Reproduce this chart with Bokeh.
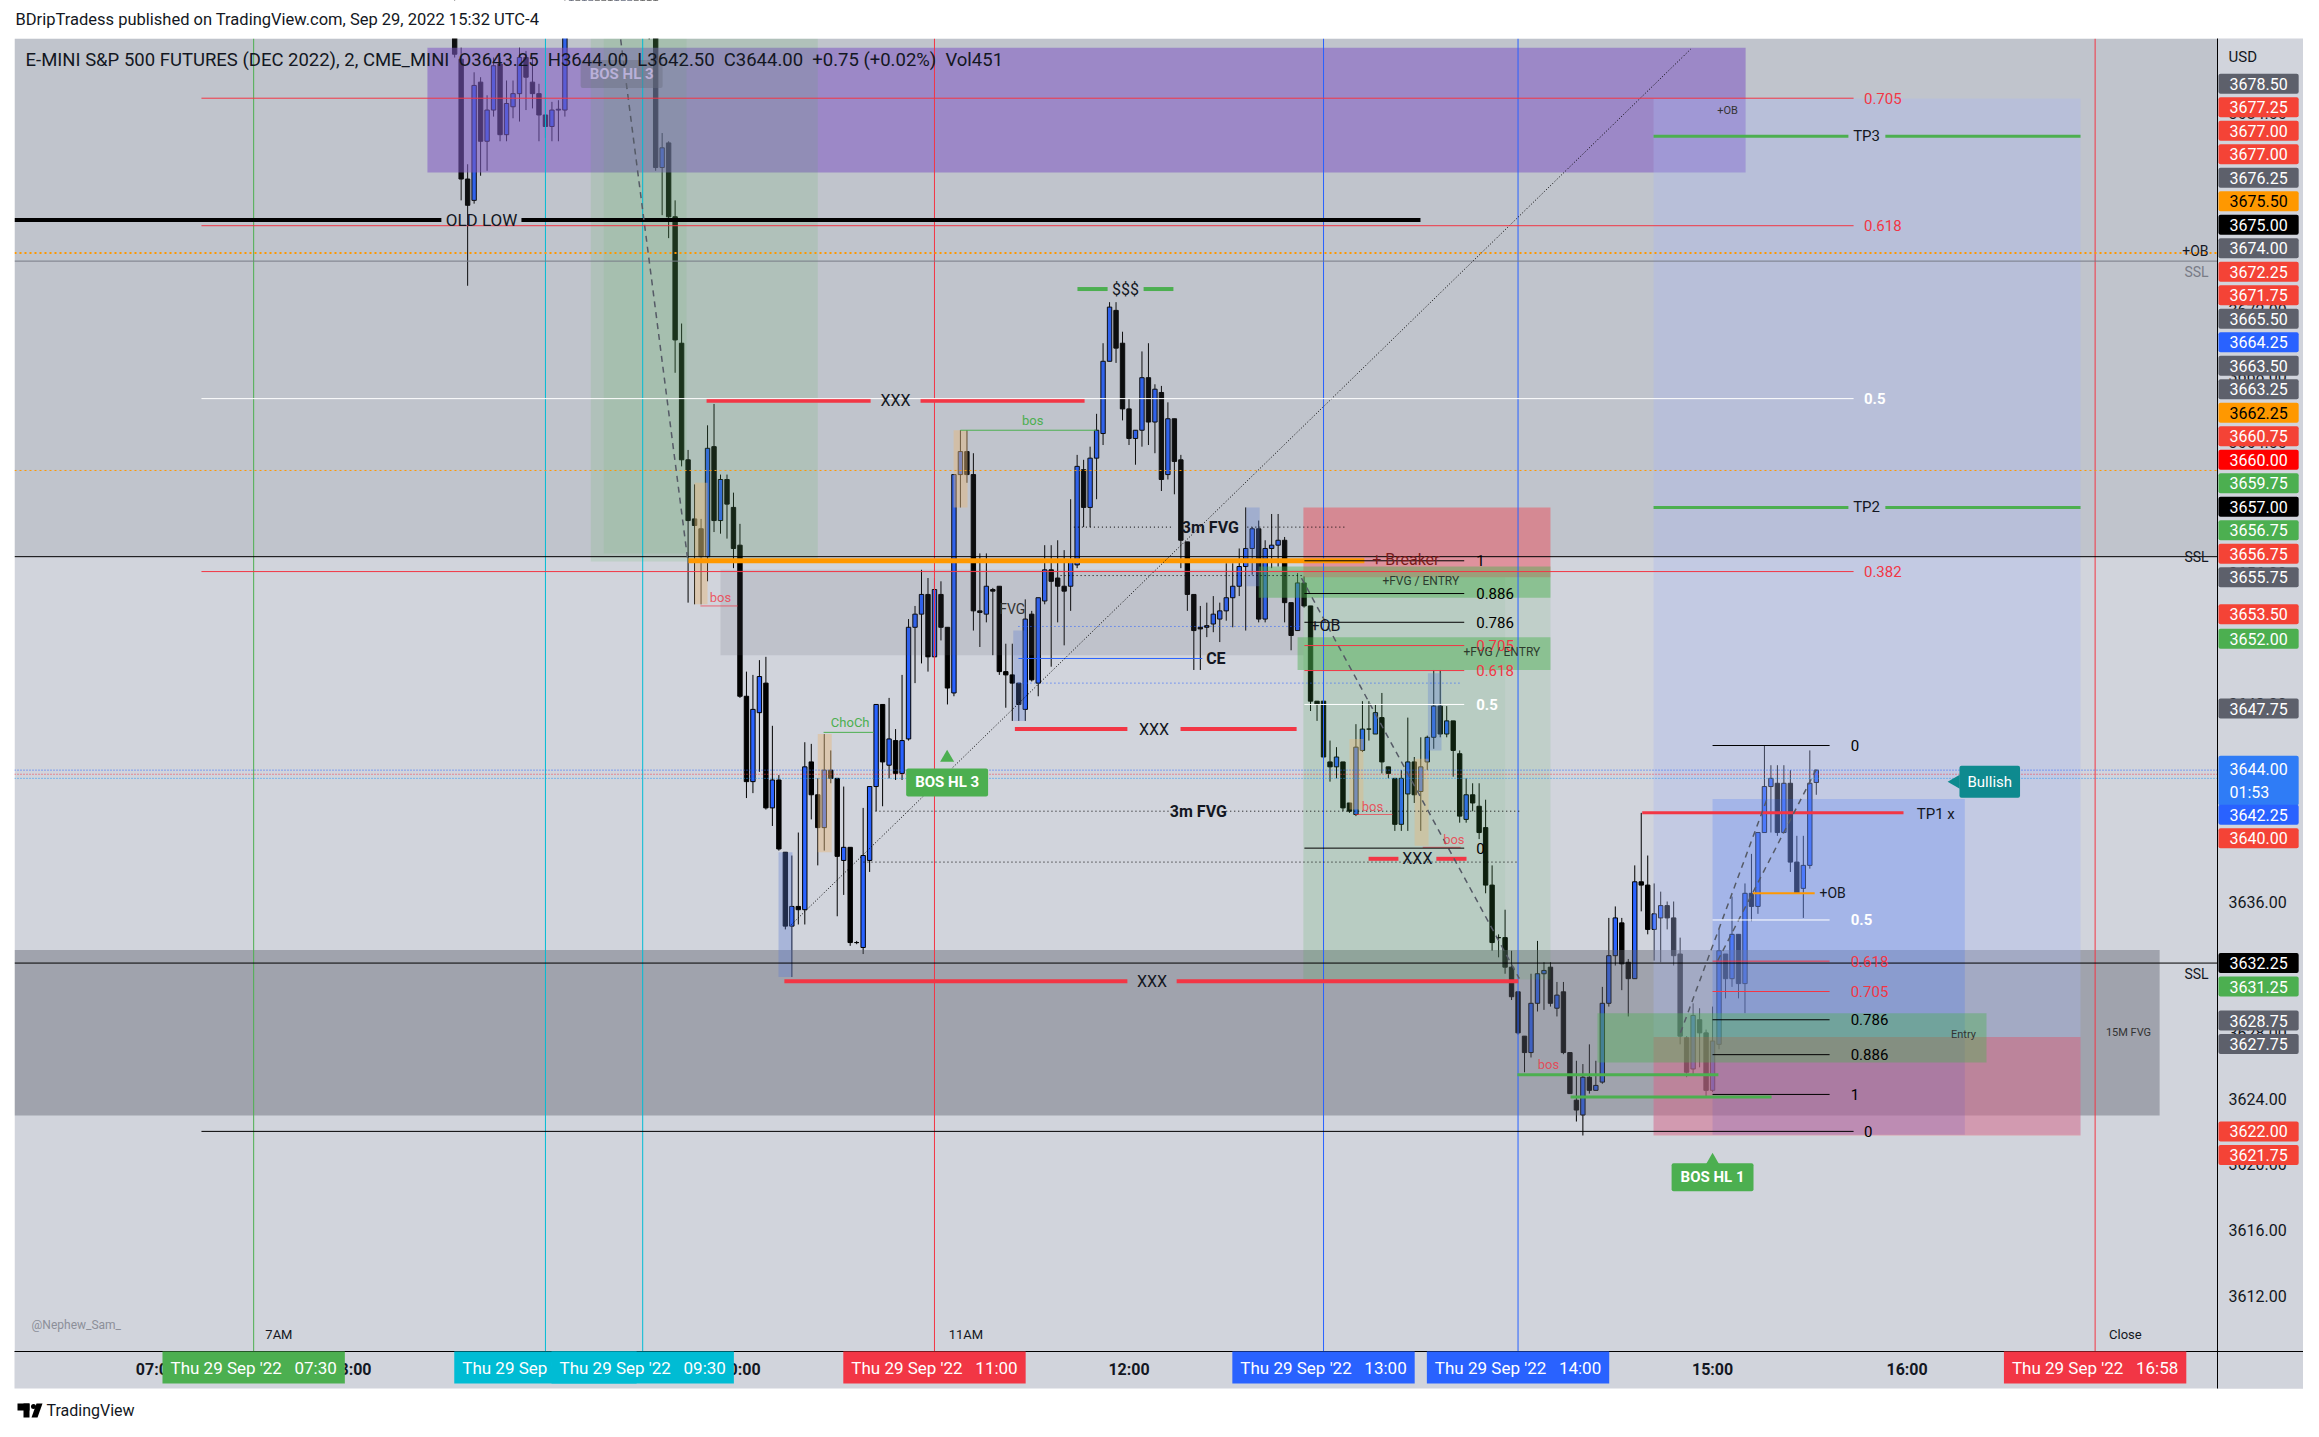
from bokeh.plotting import figure
from bokeh.models import Range1d, Label, ColumnDataSource
from bokeh.embed import file_html
from bokeh.resources import INLINE
from bokeh.core.properties import value

FONT = "Roboto"
NB = "\u00a0"

def tm(s):
    h, m = s.split(":")
    return int(h) * 60 + float(m)

# ---------------------------------------------------------------- candles (2-minute bars, ESZ22, 29 Sep 2022)
first_bar = "08:32"
open_ = [
    # 08:32-08:58
    3690.0, 3687.3, 3680.0, 3678.7, 3685.9, 3682.3, 3684.2, 3687.0, 3682.7, 3684.4, 3685.2, 3687.4, 3685.9, 3685.2,
    # 09:00-09:58
    3683.9, 3683.2, 3684.2, 3684.2, 3690.5, 3692.25, 3691.5, 3693.0, 3695.5, 3694.0, 3692.0, 3690.5, 3693.0, 3695.0, 3696.5,
    3695.0, 3691.5, 3691.0, 3680.7, 3682.2, 3677.7, 3670.0, 3662.9, 3659.3, 3658.7, 3657.0, 3663.7, 3659.2, 3661.7, 3660.0,
    # 10:00-10:58
    3657.7, 3648.5, 3643.3, 3647.5, 3649.3, 3641.7, 3643.4, 3639.0, 3634.5, 3635.7, 3635.5, 3644.5, 3642.5, 3640.5, 3644.0,
    3643.5, 3638.5, 3639.3, 3633.5, 3633.2, 3638.5, 3643.0, 3648.0, 3644.3, 3645.8, 3643.8, 3645.9, 3652.7, 3653.5, 3654.7,
    # 11:00-11:58
    3650.9, 3654.7, 3652.7, 3648.7, 3662.0, 3663.4, 3662.0, 3653.7, 3653.5, 3655.0, 3655.2, 3650.0, 3649.8, 3649.3, 3647.7,
    3653.5, 3649.3, 3654.3, 3656.2, 3655.7, 3655.2, 3655.2, 3656.5, 3662.3, 3660.0, 3663.0, 3664.5, 3668.9, 3672.0, 3670.0,
    # 12:00-12:58
    3666.0, 3664.2, 3664.7, 3667.9, 3665.2, 3667.0, 3662.0, 3665.4, 3662.9, 3657.9, 3654.7, 3652.7, 3652.8, 3652.9, 3653.2,
    3653.7, 3654.5, 3655.2, 3656.4, 3657.5, 3658.7, 3653.2, 3657.5, 3657.7, 3658.0, 3654.2, 3652.5, 3655.4, 3654.0, 3648.2,
    # 13:00-13:58
    3648.2, 3644.5, 3644.2, 3644.5, 3642.0, 3641.3, 3645.2, 3646.5, 3646.2, 3647.2, 3644.2, 3643.5, 3640.7, 3642.55, 3644.5,
    3642.7, 3644.5, 3646.0, 3647.9, 3646.2, 3647.0, 3645.0, 3641.0, 3642.5, 3641.8, 3640.5, 3637.0, 3633.8, 3633.8, 3632.0,
    # 14:00-14:58
    3630.5, 3627.8, 3626.8, 3629.8, 3631.6, 3632.0, 3629.5, 3630.5, 3626.8, 3623.9, 3623.0, 3625.3, 3624.5, 3625.0, 3629.8,
    3632.7, 3634.7, 3632.3, 3631.3, 3637.2, 3637.0, 3634.3, 3635.0, 3635.75, 3635.0, 3632.8, 3627.7, 3625.8, 3628.8, 3628.0,
    # 15:00-15:32
    3624.5, 3627.3, 3632.8, 3631.3, 3634.0, 3631.0, 3636.5, 3635.7, 3640.2, 3643.0, 3643.2, 3640.2, 3643.2, 3638.4, 3636.8,
    3638.2, 3643.25,
]
high = [
    3691.0, 3688.0, 3680.9, 3686.5, 3686.2, 3685.1, 3687.4, 3687.4, 3686.0, 3686.0, 3688.0, 3687.8, 3687.4, 3685.8,
    3685.0, 3684.7, 3684.8, 3691.5, 3693.0, 3694.5, 3693.5, 3696.0, 3697.0, 3695.0, 3693.0, 3693.5, 3695.5, 3697.5, 3698.0,
    3697.0, 3693.0, 3692.0, 3682.8, 3682.3, 3678.7, 3671.2, 3663.5, 3661.4, 3659.3, 3665.0, 3666.3, 3662.0, 3662.0, 3660.9,
    3659.0, 3650.0, 3649.8, 3650.7, 3650.9, 3646.7, 3643.7, 3639.0, 3638.8, 3640.2, 3645.7, 3645.6, 3643.5, 3646.2, 3645.2,
    3643.5, 3643.0, 3639.3, 3633.6, 3641.7, 3643.0, 3648.0, 3648.0, 3648.4, 3646.5, 3649.8, 3653.2, 3654.0, 3656.2, 3655.7,
    3655.7, 3655.5, 3652.7, 3662.0, 3664.7, 3664.7, 3663.3, 3657.2, 3657.2, 3655.1, 3655.2, 3651.7, 3651.7, 3649.3, 3654.4,
    3653.7, 3654.5, 3657.7, 3657.7, 3658.0, 3657.4, 3660.5, 3663.2, 3662.9, 3663.7, 3665.7, 3670.0, 3672.5, 3672.5, 3670.7,
    3666.6, 3664.7, 3669.5, 3670.0, 3667.5, 3667.4, 3666.4, 3665.4, 3663.2, 3657.9, 3654.7, 3654.0, 3654.2, 3654.6, 3654.2,
    3656.6, 3656.6, 3657.5, 3660.0, 3658.8, 3659.2, 3658.0, 3659.6, 3659.6, 3658.2, 3654.2, 3656.0, 3655.8, 3654.0, 3648.2,
    3648.2, 3645.8, 3645.4, 3644.5, 3642.0, 3646.8, 3648.2, 3648.2, 3648.0, 3648.7, 3644.2, 3643.5, 3644.0, 3647.2, 3644.8,
    3646.0, 3646.1, 3650.1, 3650.1, 3647.9, 3647.0, 3645.2, 3643.5, 3643.2, 3643.2, 3642.2, 3638.2, 3634.0, 3635.5, 3633.0,
    3630.5, 3627.8, 3631.6, 3633.6, 3632.3, 3632.3, 3631.1, 3631.1, 3626.8, 3626.3, 3626.1, 3627.3, 3626.3, 3630.8, 3635.0,
    3635.7, 3635.0, 3632.5, 3638.2, 3641.4, 3638.8, 3637.1, 3636.6, 3636.0, 3636.0, 3633.8, 3627.8, 3629.8, 3629.5, 3628.2,
    3629.6, 3634.3, 3632.8, 3636.3, 3634.0, 3637.1, 3638.9, 3640.2, 3645.5, 3644.3, 3644.3, 3644.3, 3644.0, 3640.0, 3640.0,
    3645.2, 3644.0,
]
low = [
    3687.4, 3678.7, 3673.5, 3678.5, 3680.2, 3680.5, 3683.8, 3682.3, 3682.3, 3683.7, 3683.5, 3684.2, 3684.3, 3682.3,
    3682.5, 3682.3, 3682.3, 3683.8, 3689.5, 3691.0, 3690.0, 3692.5, 3693.5, 3691.5, 3689.25, 3690.0, 3692.5, 3694.0, 3694.5,
    3690.5, 3688.5, 3680.5, 3677.8, 3676.4, 3668.2, 3662.5, 3654.2, 3654.1, 3654.1, 3655.5, 3658.5, 3658.4, 3658.1, 3656.3,
    3648.4, 3642.3, 3642.6, 3643.9, 3641.6, 3640.6, 3639.1, 3634.3, 3631.4, 3634.6, 3634.6, 3641.0, 3638.2, 3639.1, 3643.2,
    3635.1, 3636.4, 3633.3, 3633.4, 3632.8, 3637.8, 3641.5, 3641.8, 3643.5, 3643.4, 3643.4, 3645.8, 3649.3, 3650.5, 3650.0,
    3650.9, 3651.9, 3648.0, 3648.5, 3660.0, 3661.5, 3652.5, 3651.5, 3653.0, 3651.0, 3649.8, 3647.8, 3647.0, 3647.0, 3647.0,
    3649.4, 3648.5, 3654.1, 3650.3, 3653.0, 3651.6, 3653.7, 3656.3, 3658.8, 3658.8, 3660.5, 3663.8, 3668.9, 3668.8, 3665.3,
    3663.8, 3662.6, 3663.7, 3663.8, 3663.3, 3661.0, 3661.7, 3660.8, 3656.3, 3653.7, 3650.1, 3650.1, 3652.1, 3652.4, 3651.8,
    3653.1, 3652.7, 3654.6, 3652.5, 3655.9, 3653.0, 3653.0, 3656.3, 3656.4, 3653.0, 3651.3, 3652.5, 3653.9, 3647.6, 3647.0,
    3644.7, 3643.3, 3643.5, 3641.5, 3641.4, 3641.2, 3645.1, 3645.8, 3646.2, 3643.8, 3643.5, 3640.3, 3640.3, 3640.3, 3642.0,
    3640.3, 3644.0, 3645.3, 3646.0, 3646.0, 3643.6, 3640.8, 3640.8, 3641.5, 3639.8, 3636.5, 3633.0, 3632.6, 3631.6, 3630.0,
    3627.9, 3625.6, 3626.5, 3629.3, 3629.4, 3629.6, 3629.0, 3626.7, 3624.3, 3622.6, 3621.75, 3624.3, 3624.5, 3624.9, 3629.6,
    3632.1, 3630.6, 3629.0, 3631.3, 3635.4, 3634.0, 3632.4, 3632.3, 3634.3, 3632.1, 3627.3, 3625.3, 3625.4, 3625.9, 3624.1,
    3624.4, 3627.0, 3630.1, 3630.8, 3630.1, 3629.2, 3634.8, 3635.25, 3640.2, 3640.2, 3640.0, 3640.2, 3637.8, 3636.5, 3635.0,
    3638.0, 3642.5,
]
close = [
    3687.6, 3680.0, 3678.4, 3685.7, 3682.3, 3684.2, 3686.9, 3682.7, 3684.6, 3685.2, 3687.4, 3686.2, 3685.2, 3683.9,
    3683.2, 3684.2, 3684.25, 3690.5, 3692.25, 3691.5, 3693.0, 3695.5, 3694.0, 3692.0, 3690.5, 3693.0, 3695.0, 3696.5, 3695.0,
    3691.5, 3691.0, 3680.7, 3681.9, 3677.7, 3670.2, 3662.9, 3659.2, 3658.9, 3657.0, 3663.6, 3659.2, 3661.7, 3660.2, 3657.5,
    3648.5, 3643.3, 3647.7, 3649.7, 3641.7, 3643.4, 3639.2, 3634.5, 3635.7, 3635.5, 3644.2, 3642.5, 3640.5, 3644.0, 3643.5,
    3638.75, 3639.3, 3633.5, 3633.5, 3638.8, 3643.0, 3648.0, 3644.5, 3645.9, 3643.8, 3645.8, 3652.7, 3653.5, 3654.7, 3650.9,
    3655.0, 3652.7, 3649.0, 3662.0, 3663.4, 3662.0, 3653.7, 3653.6, 3655.2, 3654.9, 3650.0, 3649.8, 3649.3, 3648.0, 3653.2,
    3649.5, 3654.5, 3656.2, 3655.5, 3655.2, 3654.9, 3656.7, 3662.5, 3660.0, 3663.0, 3664.7, 3668.9, 3672.2, 3669.7, 3666.0,
    3664.2, 3664.7, 3667.9, 3665.2, 3667.2, 3661.7, 3665.4, 3662.8, 3658.0, 3654.7, 3652.5, 3652.6, 3652.7, 3653.5, 3653.7,
    3654.5, 3655.2, 3656.4, 3657.5, 3658.7, 3653.2, 3657.5, 3657.7, 3658.0, 3654.2, 3652.2, 3655.4, 3654.0, 3648.2, 3648.0,
    3644.8, 3644.2, 3644.8, 3641.7, 3641.5, 3645.4, 3646.5, 3646.5, 3647.5, 3644.5, 3643.8, 3640.7, 3643.5, 3644.5, 3642.5,
    3644.2, 3646.0, 3647.9, 3646.2, 3647.0, 3645.2, 3641.2, 3642.5, 3642.0, 3640.2, 3637.0, 3633.5, 3633.8, 3632.0, 3630.2,
    3628.0, 3626.8, 3629.8, 3631.6, 3631.8, 3629.8, 3630.3, 3626.8, 3624.3, 3623.3, 3625.3, 3624.5, 3624.8, 3629.8, 3632.7,
    3635.0, 3632.2, 3631.3, 3637.2, 3637.0, 3634.3, 3635.25, 3635.75, 3635.0, 3632.7, 3627.8, 3625.6, 3629.06, 3628.0, 3624.5,
    3627.5, 3633.0, 3631.3, 3634.0, 3631.0, 3636.5, 3635.7, 3640.2, 3643.0, 3643.5, 3640.2, 3643.2, 3638.4, 3636.5, 3638.2,
    3643.2, 3644.0,
]
assert len(open_) == len(high) == len(low) == len(close)

# ---------------------------------------------------------------- price-scale labels
axis_prices = [3678.50, 3677.25, 3677.00, 3677.00, 3676.25, 3675.50, 3675.00, 3674.00, 3672.25, 3671.75,
               3665.50, 3664.25, 3663.50, 3663.25, 3662.25, 3660.75, 3660.00, 3659.75, 3657.00, 3656.75,
               3656.75, 3655.75, 3653.50, 3652.00, 3647.75, 3644.00, 3642.25, 3640.00, 3632.25, 3631.25,
               3628.75, 3627.75, 3622.00, 3621.75]
axis_kinds = ["gray", "red", "red", "red", "gray", "orange", "black", "gray", "red", "red",
              "gray", "blue", "gray", "gray", "orange", "red", "pure", "green", "black", "green",
              "red", "gray", "red", "green", "gray", "last", "blue", "red", "black", "green",
              "gray", "gray", "red", "red"]
countdown = "01:53"
price_ticks = [3612, 3616, 3620, 3624, 3628, 3632, 3636, 3640, 3644, 3648, 3652, 3656, 3660,
               3664, 3668, 3672, 3676, 3680, 3684]

# ---------------------------------------------------------------- time scale
hour_ticks = ["07:00", "08:00", "09:00", "10:00", "11:00", "12:00", "13:00", "14:00", "15:00", "16:00"]
marks = ["07:30", "09:00", "09:30", "11:00", "13:00", "14:00", "16:58"]
mark_colors = ["#4caf50", "#00bcd4", "#00bcd4", "#f23645", "#2962ff", "#2962ff", "#f23645"]

# ---------------------------------------------------------------- drawn levels
old_low = 3677.5
ob_level, ssl_top, fvg_level = 3675.5, 3675.0, 3662.25
ssl_mid, ssl_low = 3657.0, 3632.25
last_price = 3644.0
breaker = 3656.75
xxx_levels = [3666.5, 3646.5, 3638.6, 3631.15]
sss_level = 3673.3
tp_levels = {"TP3": 3682.6, "TP2": 3660.0}
tp1_level = 3641.4
fib_big = (3622.0, 3711.25)      # (0, 1)
fib_mid = (3639.25, 3656.75)
fib_small = (3645.5, 3624.25)

# ---------------------------------------------------------------- page geometry (pixels -> chart units)
W, H = 2303, 1421
PX_PER_MIN, PX_PER_PT = 3.242, 16.42
REF_T, REF_X = 720.0, 1128.5          # 12:00 column
REF_P, REF_Y = 3636.0, 901.0          # 3636.00 row


def X(px):
    return REF_T + (px - REF_X) / PX_PER_MIN


def Y(py):
    return REF_P + (REF_Y - py) / PX_PER_PT


def py_of(pr):
    return REF_Y - (pr - REF_P) * PX_PER_PT


X0, X1, Y0, Y1 = X(0), X(W), Y(H), Y(0)
PL, PR, PT, PB = X(14), X(2217), Y(38), Y(1351)     # chart pane
SR, SB = X(2305), Y(1388)                            # end of price / time scales

BG = "#d1d4dc"
BLUE = "#2962ff"
RED = "#f23645"
GREEN = "#4caf50"
ORANGE = "#ff9800"

p = figure(width=W, height=H, x_range=Range1d(X0, X1), y_range=Range1d(Y0, Y1),
           x_axis_location=None, y_axis_location=None, output_backend="svg",
           toolbar_location=None, min_border=0)
p.background_fill_color = "white"
p.border_fill_color = "white"
p.outline_line_color = None
p.grid.visible = False


def text(x, y, s, size=15, color="#131722", align="center", baseline="middle", bold=False,
         bg=None, bg_alpha=1.0, pad=None, alpha=1.0, radius=0):
    kw = dict(x=x, y=y, text=s, text_font=FONT, text_font_size=f"{size}px",
              text_color=color, text_align=align, text_baseline=baseline, text_alpha=alpha,
              text_font_style="bold" if bold else "normal")
    if bg is not None:
        kw.update(background_fill_color=bg, background_fill_alpha=bg_alpha)
        if pad is not None:
            kw["padding"] = dict(left=pad[0], right=pad[0], top=pad[1], bottom=pad[1])
        if radius:
            kw["border_radius"] = radius
    p.add_layout(Label(**kw))


def hline(y, t0, t1, color, width=1, dash="solid", alpha=1.0, gap=None):
    if gap is None:
        p.line([t0, t1], [y, y], line_color=color, line_width=width, line_dash=dash, line_alpha=alpha)
    else:
        p.line([t0, gap[0]], [y, y], line_color=color, line_width=width, line_dash=dash, line_alpha=alpha)
        p.line([gap[1], t1], [y, y], line_color=color, line_width=width, line_dash=dash, line_alpha=alpha)


# chart pane
p.quad(left=PL, right=PR, bottom=PB, top=PT, fill_color=BG, line_color=None)

# ---------------------------------------------------------------- candles
times = [tm(first_bar) + 2 * i for i in range(len(open_))]
src = ColumnDataSource(dict(
    t=times, h=high, l=low,
    top=[max(o, c) for o, c in zip(open_, close)],
    bot=[min(o, c) for o, c in zip(open_, close)],
    fill=[BLUE if c >= o else "#000000" for o, c in zip(open_, close)],
))
p.segment(x0="t", y0="l", x1="t", y1="h", source=src, line_color="black", line_width=1)
p.vbar(x="t", width=1.35, top="top", bottom="bot", fill_color="fill", line_color="black",
       line_width=1, source=src)

# ---------------------------------------------------------------- zones (translucent, over candles)
zones = [
    (PL, PR, ssl_mid, PT, "#5d606b", 0.14),
    (tm("09:54"), tm("12:53.8"), 3651.0, 3656.2, "#5d606b", 0.15),
    (PL, tm("17:17.9"), 3622.97, 3633.05, "#5d606b", 0.42),
    (tm("08:23.6"), tm("15:10.2"), 3680.4, 3688.0, "#7e57c2", 0.55),
    (tm("09:14"), tm("10:24"), 3656.7, PT, GREEN, 0.14),
    (tm("09:18"), tm("09:43.5"), 3657.2, PT, GREEN, 0.10),
    (tm("12:53.8"), tm("14:10"), 3631.25, 3655.75, GREEN, 0.13),
    (tm("12:53.8"), tm("13:56"), 3631.25, 3655.75, GREEN, 0.06),
    (tm("12:53.8"), tm("14:10"), 3655.75, 3660.0, RED, 0.42),
    (tm("12:40"), tm("14:10"), 3654.5, 3656.4, GREEN, 0.45),
    (tm("12:52"), tm("14:10"), 3650.1, 3652.1, GREEN, 0.45),
    (tm("14:41.8"), tm("16:53.5"), 3621.8, 3684.9, "#a8b8f0", 0.35),
    (tm("15:00"), tm("16:17.8"), 3621.8, 3642.25, BLUE, 0.2),
    (tm("14:41.8"), tm("16:53.5"), 3621.75, 3627.75, RED, 0.32),
    (tm("14:24.5"), tm("16:24.5"), 3626.2, 3629.2, GREEN, 0.4),
    (tm("09:46"), tm("09:50"), 3654.1, 3661.5, "#e6b87a", 0.45),
    (tm("10:24"), tm("10:28.3"), 3639.0, 3646.2, "#e6b87a", 0.45),
    (tm("11:05.9"), tm("11:10.2"), 3660.0, 3664.7, "#e6b87a", 0.45),
    (tm("13:08"), tm("13:12.3"), 3641.6, 3645.9, "#e6b87a", 0.4),
    (tm("13:28.1"), tm("13:32.4"), 3639.4, 3644.7, "#e6b87a", 0.4),
    (tm("10:11.9"), tm("10:16.2"), 3631.4, 3639.0, "#5b7bd5", 0.35),
    (tm("11:24.3"), tm("11:28.1"), 3647.0, 3652.5, "#5b7bd5", 0.3),
    (tm("12:36.2"), tm("12:40.3"), 3655.2, 3660.0, "#5b7bd5", 0.3),
    (tm("13:32.2"), tm("13:36.4"), 3645.2, 3649.9, "#5b7bd5", 0.3),
]
for t0, t1, b, t, col, a in zones:
    p.quad(left=t0, right=t1, bottom=b, top=t, fill_color=col, fill_alpha=a, line_color=None)

# ---------------------------------------------------------------- vertical session lines
p.segment(x0=[tm(s) for s in marks], y0=PB, x1=[tm(s) for s in marks], y1=PT,
          line_color=mark_colors, line_width=1)

# ---------------------------------------------------------------- horizontal levels
hline(ob_level, PL, PR, ORANGE, 2, "2 3")
hline(ssl_top, PL, PR, "#787b86", 1)
hline(fvg_level, PL, PR, ORANGE, 1, "2 3")
hline(ssl_mid, PL, PR, "black", 1)
hline(ssl_low, PL, PR, "black", 1)
hline(last_price, PL, PR, BLUE, 1, "1 2")
hline(last_price - 0.25, PL, PR, RED, 1, "1 2")
hline(last_price - 0.5, PL, PR, "#2196f3", 1, "1 2")

hline(old_low, PL, tm("13:29.9"), "black", 4, gap=(tm("08:27.9"), tm("08:52.6")))
text(tm("08:40.3"), old_low, "OLD LOW", 17)
hline(breaker, tm("09:44.1"), tm("13:12.6"), ORANGE, 5)
text(tm("13:15"), breaker + 0.1, "+ Breaker", 16, color="#7b1c1c", align="left")

xxx_spans = [(tm("09:49.7"), tm("11:46.3"), tm("10:40.3"), tm("10:55.7")),
             (tm("11:24.8"), tm("12:51.7"), tm("11:59.5"), tm("12:15.9")),
             (tm("13:13.9"), tm("13:44.1"), tm("13:23.1"), tm("13:34.8")),
             (tm("10:13.7"), tm("14:00.1"), tm("11:59.5"), tm("12:14.7"))]
for lvl, (a0, a1, g0, g1) in zip(xxx_levels, xxx_spans):
    hline(lvl, a0, a1, RED, 4, gap=(g0, g1))
    text((g0 + g1) / 2, lvl, "XXX", 16)

hline(sss_level, tm("11:44.1"), tm("12:13.7"), GREEN, 4, gap=(tm("11:53.4"), tm("12:04.5")))
text(tm("11:58.9"), sss_level, "$$$", 16)

for name, lvl in tp_levels.items():
    hline(lvl, tm("14:41.8"), tm("16:53.5"), GREEN, 3, gap=(tm("15:41.9"), tm("15:53.3")))
    text(tm("15:47.5"), lvl, name, 15)
hline(tp1_level, tm("14:38.3"), tm("15:58.9"), RED, 3)
text(tm("16:03"), tp1_level - 0.05, "TP1 x", 15, align="left")
hline(3625.45, tm("13:59.8"), tm("15:01.8"), GREEN, 3)
hline(3624.1, tm("14:16.2"), tm("15:18.2"), GREEN, 3)

# bos / choch markers
hline(3664.7, tm("11:08"), tm("11:50"), GREEN, 1)
text(tm("11:30.3"), 3665.3, "bos", 13, color=GREEN)
hline(3654.0, tm("09:47.8"), tm("09:59.3"), RED, 1, alpha=0.7)
text(tm("09:54"), 3654.5, "bos", 13, color=RED, alpha=0.8)
hline(3646.3, tm("10:25.8"), tm("10:41.2"), GREEN, 1)
text(tm("10:34"), 3646.9, "ChoCh", 13, color=GREEN)
hline(3641.3, tm("13:09.8"), tm("13:21.3"), RED, 1, alpha=0.7)
text(tm("13:15.1"), 3641.8, "bos", 13, color=RED, alpha=0.8)
hline(3639.3, tm("13:30.6"), tm("13:42.3"), RED, 1, alpha=0.7)
text(tm("13:40.2"), 3639.8, "bos", 13, color=RED, alpha=0.8)
text(tm("14:09.4"), 3626.1, "bos", 13, color=RED, alpha=0.8)

# dotted FVG / CE lines
hline(3658.8, tm("11:43"), tm("12:13.8"), "black", 1, "1 3")
hline(3658.8, tm("12:36.5"), tm("13:07.3"), "black", 1, "1 3")
text(tm("12:25.1"), 3658.8, "3m FVG", 16, bold=True)
hline(3655.85, tm("11:38.9"), tm("12:53.8"), "black", 1, "1 3")
hline(3641.5, tm("10:41.8"), tm("12:13"), "black", 1, "1 3")
hline(3641.5, tm("12:30"), tm("14:00.7"), "black", 1, "1 3")
text(tm("12:21.4"), 3641.5, "3m FVG", 16, bold=True)
hline(3638.4, tm("10:38.1"), tm("13:59.8"), "black", 1, "1 3")
hline(3652.75, tm("11:25.9"), tm("12:52.9"), BLUE, 1, "1 3")
hline(3650.8, tm("11:25.9"), tm("12:22.6"), BLUE, 1)
hline(3649.3, tm("11:25.9"), tm("13:42.2"), BLUE, 1, "1 3")
text(tm("12:26.8"), 3650.8, "CE", 16, bold=True)
text(tm("11:24"), 3653.8, "FVG", 14, color="#333333")
text(tm("13:00.6"), 3652.8, "+OB", 16)

# diagonal helpers
p.line([tm("10:15.9"), tm("14:53.2")], [3634.6, 3687.9], line_color="black", line_width=1, line_dash="1 2")
for (a0, b0, a1, b1) in [(tm("09:23.2"), 3688.5, tm("09:43.8"), 3656.95),
                         (tm("12:53.2"), 3655.7, tm("14:00.4"), 3631.3),
                         (tm("14:50.1"), 3628.0, tm("15:16.9"), 3642.3),
                         (tm("15:01.6"), 3632.4, tm("15:32.4"), 3644.2)]:
    p.line([a0, a1], [b0, b1], line_color="#555a66", line_width=1.5, line_dash="6 5")

# fibonacci tools
fib_cols = {0: "black", 0.382: RED, 0.5: "white", 0.618: RED, 0.705: RED, 0.786: "black", 0.886: "black", 1: "black"}


def fib(f0, f1, t0, t1, tl, ratios, size):
    for r in ratios:
        lvl = f0 + (f1 - f0) * r
        hline(lvl, t0, t1, fib_cols[r], 1)
        lab = "0" if r == 0 else ("1" if r == 1 else f"{r:g}")
        text(tl, lvl, lab, size, color=fib_cols[r], align="left", bold=(r == 0.5))


fib(*fib_big, tm("07:13.9"), tm("15:43.5"), tm("15:46.7"), [0, 0.382, 0.5, 0.618, 0.705], 15)
fib(*fib_mid, tm("12:54.1"), tm("13:43.4"), tm("13:47.1"), [0, 0.5, 0.618, 0.705, 0.786, 0.886, 1], 15)
fib(*fib_small, tm("15:00"), tm("15:36.1"), tm("15:42.6"), [0, 0.5, 0.618, 0.705, 0.786, 0.886, 1], 15)
text(tm("13:30"), 3655.5, "+FVG / ENTRY", 12, color="#2d3b2d")
text(tm("13:55"), 3651.2, "+FVG / ENTRY", 12, color="#2d3b2d")
hline(3636.5, tm("15:12.4"), tm("15:31.5"), ORANGE, 2)
text(tm("15:33"), 3636.5, "+OB", 14, align="left")
text(tm("15:04.6"), 3684.2, "+OB", 11, color="#333333")
text(tm("16:17.4"), 3627.9, "Entry", 11, color="#333333")
text(tm("17:08.3"), 3628.0, "15M FVG", 11, color="#333333")
for s, lvl, col in [("+OB", 3675.6, "#131722"), ("SSL", 3674.35, "#787b86"),
                    ("SSL", 3657.0, "#131722"), ("SSL", 3631.6, "#131722")]:
    text(tm("17:33"), lvl, s, 14, color=col, align="right")

# signal badges
p.scatter([tm("11:03.9")], [3644.75], marker="triangle", size=14, fill_color=GREEN, line_color=None)
text(tm("11:03.9"), 3643.25, "BOS HL 3", 15, color="white", bold=True, bg=GREEN, pad=(9, 5), radius=2)
p.scatter([tm("15:00")], [3620.2], marker="triangle", size=14, fill_color=GREEN, line_color=None)
text(tm("15:00"), 3619.2, "BOS HL 1", 15, color="white", bold=True, bg=GREEN, pad=(9, 5), radius=2)
text(tm("09:23.5"), 3686.4, "BOS HL 3", 15, color="#b9b0d8", bold=True, bg="#6b6f80", bg_alpha=0.45,
     pad=(9, 5), radius=2)
p.scatter([tm("16:15")], [3643.3], marker="triangle", angle=1.5708, size=14, fill_color="#0e8a8f",
          line_color=None)
text(tm("16:25.5"), 3643.3, "Bullish", 15, color="white", bg="#0e8a8f", pad=(8, 7), radius=2)

# session / watermark texts
text(tm("07:33.6"), 3609.6, "7AM", 13, align="left")
text(tm("11:04.4"), 3609.6, "11AM", 13, align="left")
text(tm("17:02.3"), 3609.6, "Close", 13, align="left")
text(tm("06:21.5"), 3610.2, "@Nephew_Sam_", 12, color="#8c8f99", align="left")

# ---------------------------------------------------------------- page margins and scales
for l_, r_, b_, t_ in [(X0, X1, PT, Y1), (X0, PL, Y0, Y1), (X0, X1, Y0, SB), (SR, X1, Y0, Y1)]:
    p.quad(left=l_, right=r_, bottom=b_, top=t_, fill_color="white", line_color=None)
p.quad(left=[PR, PL], right=[SR, SR], bottom=[SB, SB], top=[PT, PB], fill_color=BG, line_color=None)
p.line([PR, PR], [SB, PT], line_color="black", line_width=1)
p.line([PL, SR], [PB, PB], line_color="black", line_width=1)

# price scale ticks
p.text(x=[X(2228)] * len(price_ticks), y=price_ticks, text=[f"{t:.2f}" for t in price_ticks],
       text_font=value(FONT), text_font_size=value("16px"), text_color="#131722",
       text_baseline="middle", text_align="left")
# time scale ticks
p.text(x=[tm(s) for s in hour_ticks], y=[Y(1369)] * len(hour_ticks), text=hour_ticks,
       text_font=value(FONT), text_font_size=value("16px"), text_font_style="bold",
       text_color="#131722", text_baseline="middle", text_align="center")

# ---------------------------------------------------------------- price scale labels (stacked like TradingView)
label_style = {"gray": ("#5d606b", "white"), "red": ("#f44336", "white"), "orange": (ORANGE, "black"),
               "black": ("#000000", "white"), "blue": (BLUE, "white"), "pure": ("#ff0000", "white"),
               "green": (GREEN, "white"), "last": ("#2f7cf6", "white")}
LH = 23.5
a_idx = axis_kinds.index("last")
centers = [0.0] * len(axis_prices)
ya = py_of(axis_prices[a_idx])
centers[a_idx] = ya
bound = ya - LH / 2
for i in range(a_idx - 1, -1, -1):
    c = min(py_of(axis_prices[i]), bound - LH / 2)
    centers[i] = c
    bound = c - LH / 2
bound = ya + LH / 2 + 21
for i in range(a_idx + 1, len(axis_prices)):
    c = max(py_of(axis_prices[i]), bound + LH / 2)
    centers[i] = c
    bound = c + LH / 2

for pr, kind, c in zip(axis_prices, axis_kinds, centers):
    bg, fg = label_style[kind]
    txt = f"{pr:.2f}"
    if kind == "last":
        txt = txt + "\n" + countdown
        c = c + 10.5
    text(X(2218), Y(c), txt, 16, color=fg, align="left", bg=bg, pad=(11, 4), radius=2)
text(X(2228), Y(56), "USD", 15, align="left")

# ---------------------------------------------------------------- time scale badges
for s, col in zip(marks, mark_colors):
    text(tm(s), Y(1367), f"Thu 29 Sep '22{NB}{NB}{NB}{s}", 17, color="white", bg=col, pad=(8, 6))

# ---------------------------------------------------------------- header / footer
text(X(15), Y(19), "BDripTradess published on TradingView.com, Sep 29, 2022 15:32 UTC-4", 16.5, align="left")
legend = NB.join(["E-MINI S&P 500 FUTURES (DEC 2022), 2, CME_MINI", "", "O3643.25", "", "H3644.00", "",
                  "L3642.50", "", "C3644.00", "", "+0.75 (+0.02%)", "", "Vol451"])
text(X(25), Y(59), legend, 18.5, align="left")
# TradingView logo mark and name
p.quad(left=[X(17), X(23)], right=[X(29), X(29)], bottom=[Y(1410), Y(1417)], top=[Y(1403), Y(1403)],
       fill_color="black", line_color=None)
p.scatter([X(33)], [Y(1406)], size=5, fill_color="black", line_color=None)
p.patch([X(36), X(42), X(37), X(31)], [Y(1403), Y(1403), Y(1417), Y(1417)], fill_color="black", line_color=None)
text(X(46), Y(1410), "TradingView", 16, align="left")

open("out.html", "w").write(file_html(p, INLINE))
